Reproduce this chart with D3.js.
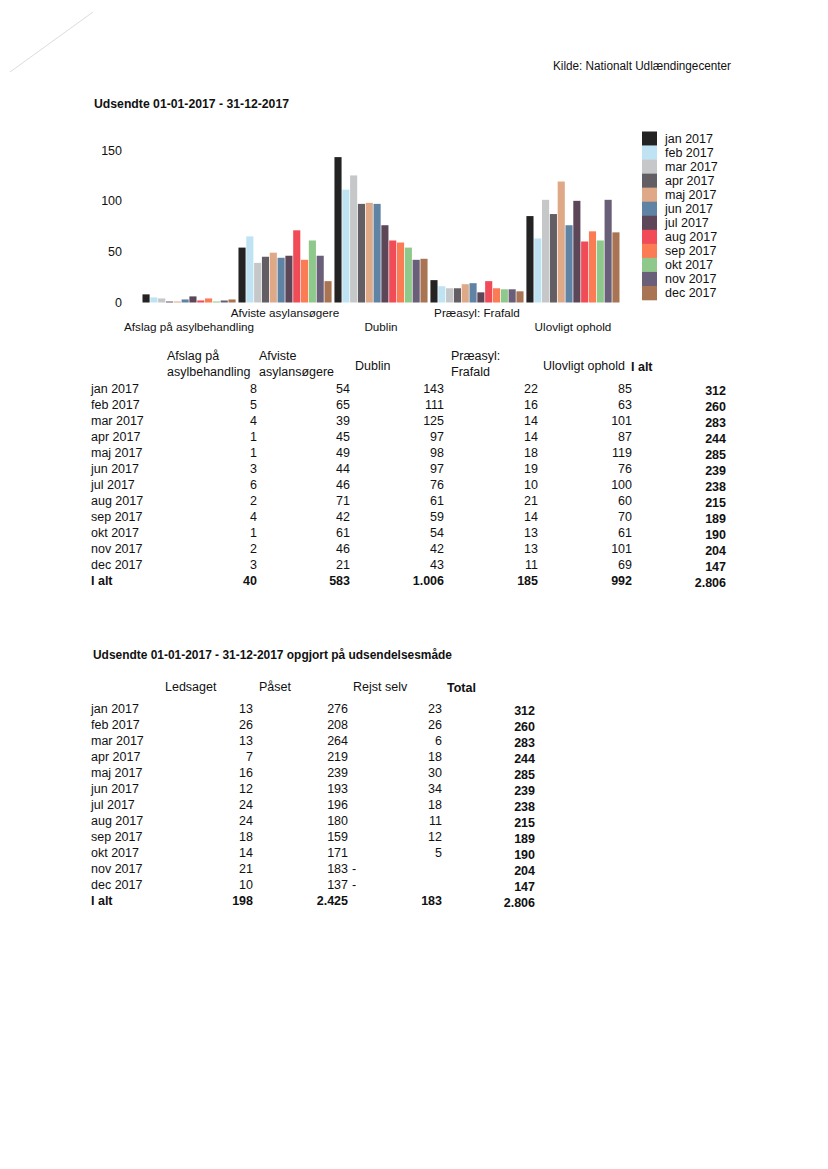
<!DOCTYPE html>
<html><head><meta charset="utf-8">
<script src="https://cdn.jsdelivr.net/npm/d3@7"></script>
<style>
html,body{margin:0;padding:0;background:#fff;}
svg text{font-family:"Liberation Sans",Arial,sans-serif;fill:#111;}
</style></head>
<body>
<svg id="c" width="828" height="1169"></svg>
<script>
const months = ["jan 2017","feb 2017","mar 2017","apr 2017","maj 2017","jun 2017","jul 2017","aug 2017","sep 2017","okt 2017","nov 2017","dec 2017"];
const categories = ["Afslag på asylbehandling","Afviste asylansøgere","Dublin","Præasyl: Frafald","Ulovligt ophold"];
const afslag   = [8,5,4,1,1,3,6,2,4,1,2,3];
const afviste  = [54,65,39,45,49,44,46,71,42,61,46,21];
const dublin   = [143,111,125,97,98,97,76,61,59,54,42,43];
const praeasyl = [22,16,14,14,18,19,10,21,14,13,13,11];
const ulovligt = [85,63,101,87,119,76,100,60,70,61,101,69];
const iAlt     = [312,260,283,244,285,239,238,215,189,190,204,147];
const colTotals1 = ["40","583","1.006","185","992","2.806"];
const yTicks = [0,50,100,150];
const monthColors = ["#232323","#bfe3f3","#c5c7c9","#635e63","#dfa886","#5f83a4","#5e4659","#f04b57","#fb7b55","#8fc88b","#6a5f78","#a97454"];

const ledsaget  = [13,26,13,7,16,12,24,24,18,14,21,10];
const paaset    = [276,208,264,219,239,193,196,180,159,171,183,137];
const rejstSelv = [23,26,6,18,30,34,18,11,12,5,null,null];
const total2    = [312,260,283,244,285,239,238,215,189,190,204,147];
const colTotals2 = ["198","2.425","183","2.806"];

const series = [afslag, afviste, dublin, praeasyl, ulovligt];
const svg = d3.select("#c");
const FS = 12.5;

// faint scan line
svg.append("line").attr("x1",10).attr("y1",72).attr("x2",93).attr("y2",12)
  .attr("stroke","#dcdcdc").attr("stroke-width",1);

svg.append("text").attr("x",553).attr("y",70).attr("font-size",12.5)
  .attr("textLength",178).attr("lengthAdjust","spacingAndGlyphs").text("Kilde: Nationalt Udlændingecenter");
svg.append("text").attr("x",94).attr("y",108).attr("font-size",12.5).attr("font-weight","bold")
  .attr("textLength",195).attr("lengthAdjust","spacingAndGlyphs").text("Udsendte 01-01-2017 - 31-12-2017");

// chart
const x0 = d3.scaleBand().domain(categories).range([142.5,619.5]).paddingInner(0.03);
const x1 = d3.scaleBand().domain(months).range([0,x0.bandwidth()]).paddingInner(0.09);
const y = d3.scaleLinear().domain([0,150]).range([302.5,150]);
const color = d3.scaleOrdinal().domain(months).range(monthColors);

const groups = svg.append("g").selectAll("g").data(categories).join("g")
  .attr("transform", d => `translate(${x0(d)},0)`);
groups.selectAll("rect").data((d,i) => months.map((m,j) => ({m, v: series[i][j]}))).join("rect")
  .attr("x", d => x1(d.m)).attr("width", x1.bandwidth())
  .attr("y", d => y(d.v)).attr("height", d => y(0) - y(d.v))
  .attr("fill", d => color(d.m));

const yAxis = d3.axisLeft(y).tickValues(yTicks).tickSize(0).tickPadding(0);
const ya = svg.append("g").attr("transform","translate(122,0)").call(yAxis);
ya.select(".domain").remove();
ya.selectAll("text").attr("font-size",12.5).attr("font-family","Liberation Sans, Arial, sans-serif").attr("fill","#111");

svg.append("g").selectAll("text").data(categories).join("text")
  .attr("x", d => x0(d) + x0.bandwidth()/2)
  .attr("y", (d,i) => i % 2 === 0 ? 331 : 316.5)
  .attr("text-anchor","middle").attr("font-size",11.7).text(d => d);

// legend
const lg = svg.append("g");
const ly = d3.scaleBand().domain(months).range([131.5,300]);
lg.selectAll("rect").data(months).join("rect")
  .attr("x",642).attr("y", d => ly(d)).attr("width",15).attr("height", ly.bandwidth()+0.3)
  .attr("fill", d => color(d));
lg.selectAll("text").data(months).join("text")
  .attr("x",665).attr("y", d => ly(d) + ly.bandwidth()/2 + 4.5)
  .attr("font-size",12.5).text(d => d);

// table 1
const t1 = svg.append("g");
const hdr1 = [
  {x:167, lines:["Afslag på","asylbehandling"], y:[360,376]},
  {x:259, lines:["Afviste","asylansøgere"], y:[360,376]},
  {x:355, lines:["Dublin"], y:[369.5]},
  {x:451, lines:["Præasyl:","Frafald"], y:[360,376]},
  {x:543, lines:["Ulovligt ophold"], y:[370]}
];
hdr1.forEach(h => h.lines.forEach((l,k) => t1.append("text").attr("x",h.x).attr("y",h.y[k]).attr("font-size",FS).text(l)));
t1.append("text").attr("x",631).attr("y",370.5).attr("font-size",FS).attr("font-weight","bold").text("I alt");
const rowY1 = i => 392.5 + i*16;
const colX1 = [257,350,444,538,632];
months.forEach((m,i) => {
  t1.append("text").attr("x",91).attr("y",rowY1(i)).attr("font-size",FS).text(m);
  series.forEach((s,c) => t1.append("text").attr("x",colX1[c]).attr("y",rowY1(i)).attr("text-anchor","end").attr("font-size",FS).text(s[i]));
  t1.append("text").attr("x",726).attr("y",rowY1(i)+2.5).attr("text-anchor","end").attr("font-size",FS).attr("font-weight","bold").text(iAlt[i]);
});
t1.append("text").attr("x",91).attr("y",rowY1(12)).attr("font-size",FS).attr("font-weight","bold").text("I alt");
colTotals1.forEach((v,c) => t1.append("text").attr("x", c<5 ? colX1[c] : 726).attr("y",rowY1(12) + (c<5?0:2)).attr("text-anchor","end").attr("font-size",FS).attr("font-weight","bold").text(v));

// table 2
const t2 = svg.append("g");
t2.append("text").attr("x",93).attr("y",659).attr("font-size",12.5).attr("font-weight","bold")
  .attr("textLength",359).attr("lengthAdjust","spacingAndGlyphs").text("Udsendte 01-01-2017 - 31-12-2017 opgjort på udsendelsesmåde");
[["Ledsaget",165,false],["Påset",259,false],["Rejst selv",353,false],["Total",447,true]].forEach(h =>
  t2.append("text").attr("x",h[1]).attr("y",h[2]?692:691).attr("font-size",FS).attr("font-weight",h[2]?"bold":"normal").text(h[0]));
const rowY2 = i => 712.5 + i*16;
const colX2 = [253,348,442,535];
const cols2 = [ledsaget,paaset,rejstSelv];
months.forEach((m,i) => {
  t2.append("text").attr("x",91).attr("y",rowY2(i)).attr("font-size",FS).text(m);
  cols2.forEach((s,c) => {
    if (s[i] !== null) t2.append("text").attr("x",colX2[c]).attr("y",rowY2(i)).attr("text-anchor","end").attr("font-size",FS).text(s[i]);
    else t2.append("text").attr("x",352).attr("y",rowY2(i)).attr("font-size",FS).text("-");
  });
  t2.append("text").attr("x",colX2[3]).attr("y",rowY2(i)+2).attr("text-anchor","end").attr("font-size",FS).attr("font-weight","bold").text(total2[i]);
});
t2.append("text").attr("x",91).attr("y",rowY2(12)).attr("font-size",FS).attr("font-weight","bold").text("I alt");
colTotals2.forEach((v,c) => t2.append("text").attr("x",colX2[c]).attr("y",rowY2(12)+(c===3?2:0)).attr("text-anchor","end").attr("font-size",FS).attr("font-weight","bold").text(v));
</script>
</body></html>
